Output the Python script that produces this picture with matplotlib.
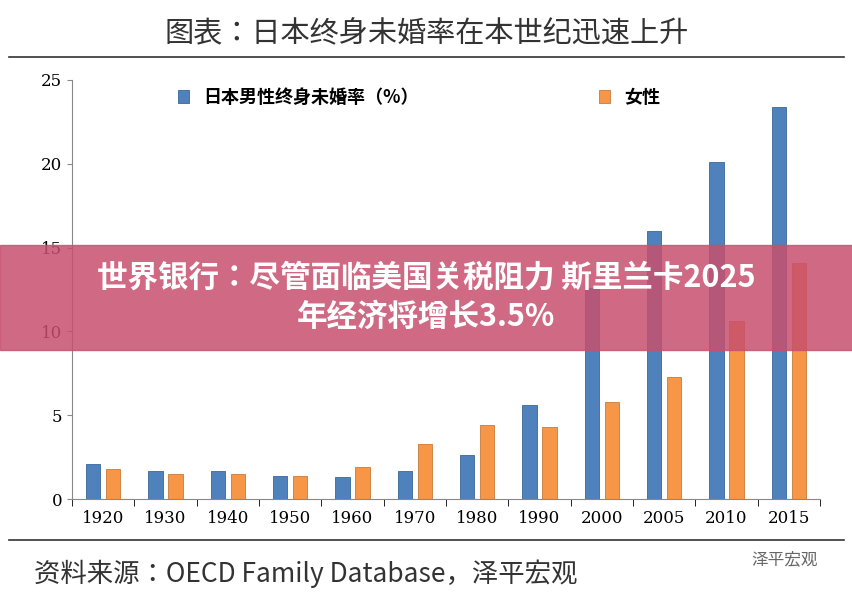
import matplotlib.pyplot as plt
import numpy as np
from matplotlib.patches import Rectangle
from matplotlib import font_manager

cjk = sorted({f.name for f in font_manager.fontManager.ttflist if 'CJK' in f.name})
plt.rcParams['font.family'] = (cjk[:1] or ['Noto Sans CJK SC']) + ['DejaVu Sans']
CJK = plt.rcParams['font.family'][0]

years = ['1920', '1930', '1940', '1950', '1960', '1970', '1980', '1990', '2000', '2005', '2010', '2015']
male = [2.1, 1.7, 1.7, 1.4, 1.3, 1.7, 2.6, 5.6, 12.6, 16.0, 20.1, 23.4]
female = [1.8, 1.5, 1.5, 1.4, 1.9, 3.3, 4.4, 4.3, 5.8, 7.3, 10.6, 14.1]

fig = plt.figure(figsize=(8.53, 5.95), dpi=100)
ax = fig.add_axes([72 / 853, 1 - 499 / 595, 748 / 853, 419 / 595])

x = np.arange(len(years))
w = 0.23
ax.bar(x - 0.16, male, w, color='#4f81bd', edgecolor='#3a6797', linewidth=0.6, label='日本男性终身未婚率（%）')
ax.bar(x + 0.16, female, w, color='#f79646', edgecolor='#c87a3a', linewidth=0.6, label='女性')

ax.set_xlim(-0.5, len(years) - 0.5)
ax.set_ylim(0, 25)
ax.set_yticks([0, 5, 10, 15, 20, 25])
ax.set_xticks(x)
ax.set_xticklabels(years, fontfamily='DejaVu Serif', fontsize=12)
for t in ax.get_yticklabels():
    t.set_fontfamily('DejaVu Serif')
    t.set_fontsize(12)
for s in ['top', 'right']:
    ax.spines[s].set_visible(False)
ax.spines['left'].set_color('#888888')
ax.spines['bottom'].set_color('#888888')
ax.tick_params(color='#888888')
ax.set_xticks(np.arange(-0.5, len(years)), minor=True)
ax.tick_params(axis='x', which='major', length=0, pad=8)
ax.tick_params(axis='x', which='minor', length=5)
ax.legend(loc='upper left', bbox_to_anchor=(0.12, 1.02), ncol=2, frameon=False,
          prop={'family': CJK, 'weight': 'bold', 'size': 13}, columnspacing=10, handlelength=0.6)

fig.text(0.5, 0.943, '图表：日本终身未婚率在本世纪迅速上升', ha='center', va='center', fontsize=21, color='#333333')
fig.add_artist(plt.Line2D([0.01, 0.99], [0.905, 0.905], color='#333333', lw=1.2))
fig.add_artist(plt.Line2D([0.01, 0.99], [0.092, 0.092], color='#333333', lw=1.2))
fig.text(0.04, 0.035, '资料来源：OECD Family Database，泽平宏观', ha='left', va='center', fontsize=19,
         color='#333333', style='italic')
fig.text(0.92, 0.06, '泽平宏观', ha='center', va='center', fontsize=12, color='#666666')

fig.add_artist(Rectangle((0, 1 - 350 / 595), 1, 105 / 595, transform=fig.transFigure,
                         color='#c8506e', alpha=0.85, zorder=10))
fig.text(0.5, 1 - 297 / 595, '世界银行：尽管面临美国关税阻力 斯里兰卡2025\n年经济将增长3.5%', ha='center', va='center',
         fontsize=22, fontweight='bold', color='white', zorder=11, linespacing=1.3)

fig.savefig('out.png', dpi=100)
